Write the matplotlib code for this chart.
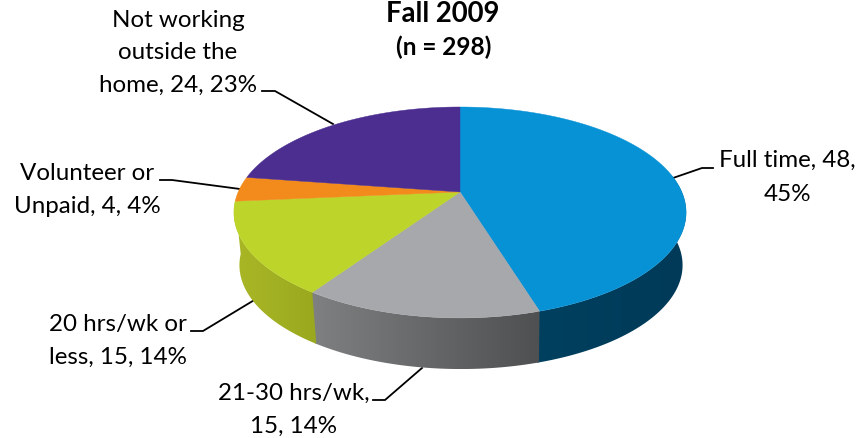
import numpy as np
import matplotlib
matplotlib.use('Agg')
import matplotlib.pyplot as plt
from matplotlib.colors import LinearSegmentedColormap
from matplotlib.patches import Polygon

plt.rcParams['font.family'] = ['Lato', 'DejaVu Sans']

# data
categories = ['Full time', '21-30 hrs/wk', '20 hrs/wk or less', 'Volunteer or Unpaid', 'Not working outside the home']
counts = [48, 15, 15, 4, 24]
top_colors = ['#0892d6', '#a6a8ab', '#bdd42a', '#f28a1c', '#4b2e8f']
# wall colours, screen left to right
side_left = ['#00405f', '#7e8082', '#a9b726', '#c06d12', '#3a2370']
side_right = ['#003a58', '#4f5052', '#9aa81f', '#c06d12', '#3a2370']

W, H = 858, 438
fig = plt.figure(figsize=(W / 100, H / 100), dpi=100)
ax = fig.add_axes([0, 0, 1, 1])
ax.axis('off')

# perspective of the pie disc
CX, CY = 460, 192
A, S, P = 221.8, 101.5, 0.194
DEPTH, SHRINK = 53, 0.98


def rim(theta, lower=False):
    # theta = degrees clockwise from 12 o'clock
    t = np.radians(theta)
    x, y = np.sin(t), np.cos(t)
    d = 1 + P * y
    px, py = A * x / d, -S * y / d
    if lower:
        return CX + SHRINK * px + 1, CY + DEPTH + 0.985 * py
    return CX + px, CY + py


edges = np.cumsum([0] + counts) / sum(counts) * 360

# side wall, only the part facing us. each piece runs a bit under the next one
for i in range(len(counts)):
    lo, hi = max(edges[i], 80), min(edges[i + 1] + 0.5, edges[3])
    if lo >= hi:
        continue
    th = np.linspace(lo, hi, 100)
    xt, yt = rim(th)
    xb, yb = rim(th, True)
    pts = np.column_stack([np.r_[xt, xb[::-1]], np.r_[yt, yb[::-1]]])
    poly = Polygon(pts, closed=True, fc='none', ec='none', transform=ax.transData)
    ax.add_patch(poly)
    cmap = LinearSegmentedColormap.from_list('wall', [side_left[i], side_right[i]])
    grad = np.linspace(0, 1, 128).reshape(1, -1)
    im = ax.imshow(grad, cmap=cmap, aspect='auto', zorder=2 + i * 0.01,
                   extent=[pts[:, 0].min(), pts[:, 0].max(), pts[:, 1].max(), pts[:, 1].min()])
    im.set_clip_path(poly)

# top face
for i in range(len(counts)):
    th = np.linspace(edges[i], edges[i + 1], 120)
    xs, ys = rim(th)
    pts = np.column_stack([np.r_[CX, xs], np.r_[CY, ys]])
    ax.add_patch(Polygon(pts, closed=True, fc=top_colors[i], ec=top_colors[i], lw=0.3, zorder=3))

# leader lines
leaders = [
    [(262, 91), (275, 91), (333, 124)],
    [(673, 178), (702, 168), (713, 168)],
    [(160, 180), (172, 180), (240, 189)],
    [(191, 331), (203, 331), (256, 299)],
    [(373, 400), (385, 400), (422, 368)],
]
for pts in leaders:
    xs, ys = zip(*pts)
    ax.plot(xs, ys, color='black', lw=1.3, zorder=1, solid_joinstyle='miter')

ax.set_xlim(0, W)
ax.set_ylim(H, 0)

# labels
FS = 17.4
ax.text(443, 22, 'Fall 2009', ha='center', va='baseline', fontsize=19.8, fontweight='bold')
ax.text(444, 55, '(n = 298)', ha='center', va='baseline', fontsize=17.6, fontweight='bold')
labels = [
    (178, 27, 'Not working'),
    (178, 59, 'outside the'),
    (178, 92, 'home, 24, 23%'),
    (787, 167, 'Full time, 48,'),
    (787, 201, '45%'),
    (87, 180, 'Volunteer or'),
    (87, 213, 'Unpaid, 4, 4%'),
    (117.5, 331, '20 hrs/wk or'),
    (117.5, 364, 'less, 15, 14%'),
    (294, 400, '21-30 hrs/wk,'),
    (294, 433, '15, 14%'),
]
for x, y, s in labels:
    ax.text(x, y, s, ha='center', va='baseline', fontsize=FS)

fig.savefig('out.png', dpi=100)
